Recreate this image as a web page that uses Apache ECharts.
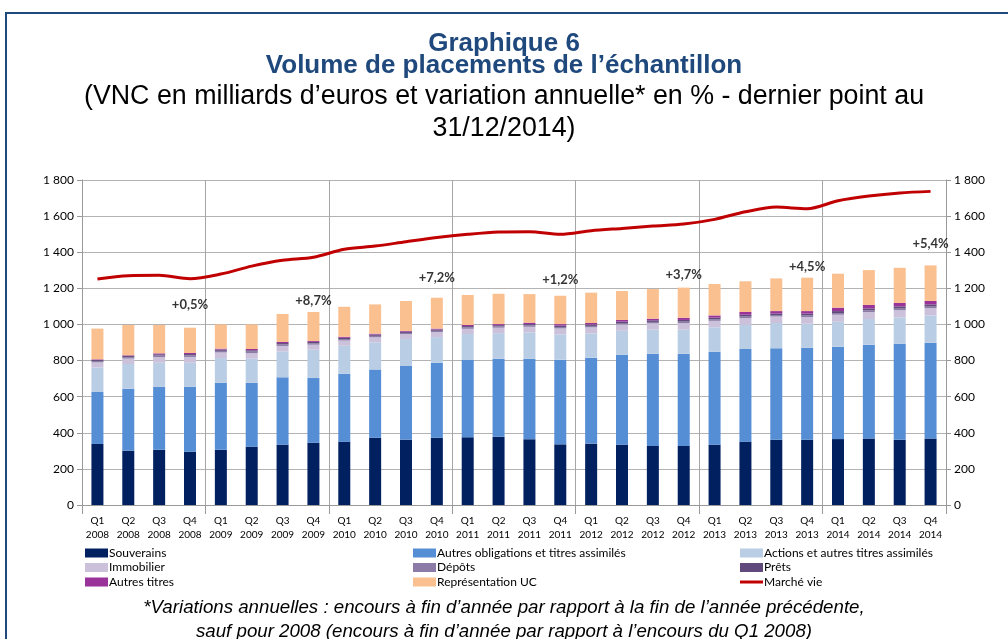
<!DOCTYPE html>
<html lang="fr">
<head>
  <meta http-equiv="Content-Type" content="text/html; charset=UTF-8">
  <title>Graphique 6</title>
  <script type="text/javascript" src="https://cdn.jsdelivr.net/npm/echarts@6/dist/echarts.min.js"></script>
  <style>
    body { margin: 0; background: #fff; }
  </style>
</head>
<body>
<div id="main" style="width: 1008px;height:639px;"></div>
<script type="text/javascript">
  // trimestres
  const categories = [
    'Q1\n2008', 'Q2\n2008', 'Q3\n2008', 'Q4\n2008',
    'Q1\n2009', 'Q2\n2009', 'Q3\n2009', 'Q4\n2009',
    'Q1\n2010', 'Q2\n2010', 'Q3\n2010', 'Q4\n2010',
    'Q1\n2011', 'Q2\n2011', 'Q3\n2011', 'Q4\n2011',
    'Q1\n2012', 'Q2\n2012', 'Q3\n2012', 'Q4\n2012',
    'Q1\n2013', 'Q2\n2013', 'Q3\n2013', 'Q4\n2013',
    'Q1\n2014', 'Q2\n2014', 'Q3\n2014', 'Q4\n2014'
  ];
  // milliards d'euros
  const souverains = [338, 301, 306, 295, 306, 323, 334, 345, 351, 373, 362, 373, 375, 378, 364, 336, 340, 334, 327, 327, 334, 351, 362, 362, 365, 369, 362, 369];
  const autresOblig = [290, 343, 349, 360, 371, 354, 373, 358, 376, 378, 410, 415, 428, 432, 446, 469, 476, 498, 511, 511, 515, 513, 506, 509, 512, 519, 531, 530];
  const actions = [134, 137, 133, 133, 137, 133, 144, 157, 155, 150, 147, 142, 144, 142, 146, 140, 134, 133, 133, 133, 135, 133, 140, 133, 138, 142, 146, 151];
  const immobilier = [28, 30, 31, 32, 31, 31, 30, 28, 29, 28, 27, 28, 29, 30, 31, 33, 34, 35, 35, 36, 36, 38, 36, 37, 39, 39, 40, 40];
  const depots = [8, 8, 9, 9, 9, 9, 9, 8, 8, 8, 7, 7, 8, 8, 8, 8, 8, 8, 8, 9, 9, 9, 8, 9, 9, 9, 9, 9];
  const prets = [6, 6, 7, 7, 7, 7, 7, 7, 7, 7, 7, 7, 7, 6, 7, 8, 8, 8, 9, 9, 9, 10, 9, 10, 11, 11, 12, 12];
  const autresTitres = [3, 4, 5, 6, 5, 7, 6, 5, 6, 5, 4, 5, 6, 6, 8, 8, 8, 9, 9, 12, 12, 15, 13, 14, 19, 19, 19, 19];
  const representationUC = [170, 168, 157, 140, 134, 136, 155, 161, 166, 162, 166, 171, 166, 168, 158, 157, 168, 160, 164, 167, 174, 170, 181, 185, 188, 193, 195, 197];
  const marcheVie = [1252, 1270, 1272, 1253, 1279, 1323, 1355, 1372, 1416, 1434, 1458, 1481, 1499, 1512, 1514, 1499, 1519, 1532, 1545, 1556, 1582, 1624, 1650, 1641, 1685, 1711, 1728, 1737];

  // variations annuelles (fin d'année)
  const variationIdx = [3, 7, 11, 15, 19, 23, 27];
  const variations = ['+0,5%', '+8,7%', '+7,2%', '+1,2%', '+3,7%', '+4,5%', '+5,4%'];
  const variationHeights = [1108, 1130, 1257, 1246, 1274, 1318, 1445];

  const yTicks = ['0', '200', '400', '600', '800', '1 000', '1 200', '1 400', '1 600', '1 800'];

  const FONT = 'Lato, "Open Sans", sans-serif';
  const NARROW = '"Liberation Sans Narrow", "Liberation Sans", Arial, sans-serif';
  const yearStart = function (i) { return i % 4 === 0; };

  var myChart = echarts.init(document.getElementById('main'));

  function barSeries(name, data, color) {
    return {
      name: name,
      type: 'bar',
      stack: 'total',
      barWidth: 12,
      data: data,
      itemStyle: { color: color },
      emphasis: { disabled: true }
    };
  }

  function legendCol(left, top, names, h) {
    return {
      orient: 'vertical', left: left, top: top, itemGap: 2.5, itemWidth: 23, itemHeight: h,
      icon: 'rect',
      textStyle: { fontSize: 12, color: '#000', padding: [0, 0, 0, -4] },
      data: names
    };
  }

  const yAxisBase = {
    type: 'value',
    min: 0,
    max: 1800,
    interval: 200,
    axisLine: { show: true, lineStyle: { color: '#999' } },
    axisTick: { show: true, length: 5, lineStyle: { color: '#999' } },
    axisLabel: {
      color: '#000',
      fontFamily: FONT,
      fontSize: 12,
      formatter: function (v) { return yTicks[v / 200]; }
    }
  };

  myChart.setOption({
    animation: false,
    textStyle: { fontFamily: FONT },
    title: [
      {
        text: 'Graphique 6\nVolume de placements de l\u2019échantillon',
        left: 'center',
        top: 28,
        textStyle: {
          color: '#1F497D',
          fontFamily: NARROW,
          fontWeight: 'bold',
          fontSize: 26,
          lineHeight: 22
        }
      },
      {
        text: '(VNC en milliards d\u2019euros et variation annuelle* en % - dernier point au\n31/12/2014)',
        left: 'center',
        top: 76,
        textStyle: {
          color: '#000',
          fontFamily: NARROW,
          fontWeight: 'normal',
          fontSize: 26.8,
          lineHeight: 32
        }
      },
      {
        text: '*Variations annuelles : encours à fin d\u2019année par rapport à la fin de l\u2019année précédente,\nsauf pour 2008 (encours à fin d\u2019année par rapport à l\u2019encours du Q1 2008)',
        left: 'center',
        top: 591,
        textStyle: {
          color: '#000',
          fontFamily: NARROW,
          fontStyle: 'italic',
          fontWeight: 'normal',
          fontSize: 18.7,
          lineHeight: 24
        }
      }
    ],
    graphic: [
      {
        type: 'rect',
        shape: { x: 6, y: 13, width: 1020, height: 640 },
        style: { fill: 'none', stroke: '#1F497D', lineWidth: 2 },
        silent: true
      }
    ],
    legend: [
      legendCol(80, 542, ['Souverains', 'Immobilier', 'Autres titres'], 9),
      legendCol(408, 542, ['Autres obligations et titres assimilés', 'Dépôts', 'Représentation UC'], 9),
      legendCol(735, 542, ['Actions et autres titres assimilés', 'Prêts'], 9),
      legendCol(735, 571, ['Marché vie'], 3)
    ],
    grid: { left: 82, right: 62, top: 180, bottom: 134 },
    xAxis: {
      type: 'category',
      data: categories,
      axisLine: { lineStyle: { color: '#999' } },
      axisTick: { show: true, interval: yearStart, length: 9, lineStyle: { color: '#999' } },
      splitLine: { show: true, interval: yearStart, lineStyle: { color: '#A6A6A6' } },
      axisLabel: { interval: 0, color: '#000', fontSize: 10, lineHeight: 14, margin: 9 }
    },
    yAxis: [
      Object.assign({}, yAxisBase, {
        position: 'left',
        splitLine: { show: true, lineStyle: { color: '#B3B3B3' } }
      }),
      Object.assign({}, yAxisBase, {
        position: 'right',
        splitLine: { show: false }
      })
    ],
    series: [
      barSeries('Souverains', souverains, '#002060'),
      barSeries('Autres obligations et titres assimilés', autresOblig, '#558ED5'),
      barSeries('Actions et autres titres assimilés', actions, '#B9CDE5'),
      barSeries('Immobilier', immobilier, '#CCC1DA'),
      barSeries('Dépôts', depots, '#8B7BA6'),
      barSeries('Prêts', prets, '#604A7B'),
      barSeries('Autres titres', autresTitres, '#993399'),
      barSeries('Représentation UC', representationUC, '#FAC090'),
      {
        name: 'Marché vie',
        type: 'line',
        data: marcheVie,
        smooth: 0.3,
        symbol: 'none',
        lineStyle: { color: '#C00000', width: 3 },
        itemStyle: { color: '#C00000' },
        z: 5
      },
      {
        name: 'variations',
        type: 'scatter',
        symbolSize: 0,
        silent: true,
        data: variationIdx.map(function (idx, k) { return [idx, variationHeights[k]]; }),
        label: {
          show: true,
          position: 'inside',
          color: '#000',
          fontWeight: 'bold',
          fontSize: 13,
          formatter: function (p) { return variations[p.dataIndex]; }
        }
      }
    ]
  });
</script>
</body>
</html>
